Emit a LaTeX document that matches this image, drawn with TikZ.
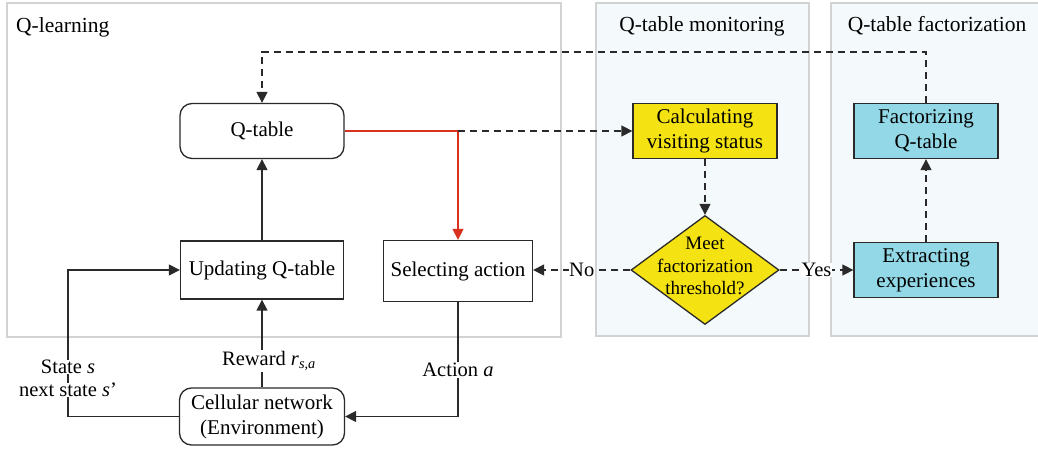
\documentclass[tikz,border=0pt]{standalone}
\usepackage{fontspec}
\setmainfont{Liberation Serif}
\usetikzlibrary{arrows.meta,shapes.geometric}
\definecolor{panelgray}{HTML}{D2D2D2}
\definecolor{panelfill}{HTML}{F4FAFB}
\definecolor{qyellow}{HTML}{F5E212}
\definecolor{qcyan}{HTML}{93D8E6}
\definecolor{qred}{HTML}{D8321F}
\definecolor{edge}{HTML}{2A2A2A}
\tikzset{
  panel/.style={draw=panelgray, line width=1.3pt},
  box/.style={draw=edge, line width=1.3pt, align=center, inner sep=0pt,
    font=\fontsize{21}{25}\selectfont},
  rbox/.style={box, rounded corners=12pt},
  title/.style={font=\fontsize{21.5}{24}\selectfont, inner sep=0pt},
  lab/.style={font=\fontsize{20.5}{23}\selectfont, fill=white, inner sep=1pt},
  conn/.style={draw=edge, line width=1.4pt, -{Triangle[length=11pt,width=11pt]}},
  dconn/.style={conn, dash pattern=on 7pt off 5pt},
}
\begin{document}
\begin{tikzpicture}[x=1pt,y=-1pt]
\useasboundingbox (0,0) rectangle (1038,449);
% panels
\draw[panel, fill=white] (7,3) rectangle (561,337);
\draw[panel, fill=panelfill] (596,3) rectangle (809,336);
\draw[panel, fill=panelfill] (831,3) rectangle (1045,336);
\node[title, anchor=west] (t1) at (16,27) {Q-learning};
\node[title] (t2) at (702,26) {Q-table monitoring};
\node[title] (t3) at (937,26) {Q-table factorization};
% nodes
\node[rbox, minimum width=164pt, minimum height=55pt] (qt) at (262,131) {Q-table};
\node[box, minimum width=163pt, minimum height=58pt] (upd) at (262,270) {Updating Q-table};
\node[box, minimum width=149pt, minimum height=61pt] (sel) at (458,271) {Selecting action};
\node[rbox, minimum width=165pt, minimum height=57pt] (env) at (262,416.5) {Cellular network\\(Environment)};
\node[box, fill=qyellow, minimum width=144pt, minimum height=55pt] (calc) at (705,131) {Calculating\\visiting status};
\node[box, fill=qcyan, minimum width=144pt, minimum height=55pt] (fact) at (926,131) {Factorizing\\Q-table};
\node[box, fill=qcyan, minimum width=144pt, minimum height=55pt] (extr) at (926,270) {Extracting\\experiences};
\node[diamond, draw=edge, line width=1.3pt, fill=qyellow, minimum width=148pt, minimum height=109pt, inner sep=0pt] (dia) at (705,270) {};
\node[align=center, inner sep=0pt, font=\fontsize{19}{22.5}\selectfont] (diat) at (705,266) {Meet\\factorization\\threshold?};
% coordinates
\coordinate (top) at (0,52);
\coordinate (split) at (458,131);
\coordinate (sl) at (68,0);
% connectors
\draw[dconn] (fact.north) -- (fact.north |- top) -- (qt.north |- top) -- (qt.north);
\draw[line width=1.4pt, draw=qred, -{Triangle[length=11pt,width=11pt]}] (qt.east) -- (split) -- (sel.north);
\draw[dconn] (split) -- (calc.west);
\draw[dconn] (calc.south) -- (dia.north);
\draw[dconn] (extr.north) -- (fact.south);
\draw[dconn] (dia.west) -- node[lab, inner sep=0.5pt] (no) {No} (sel.east |- dia.west);
\draw[dconn] (dia.east) -- node[lab, inner sep=0.5pt] (yes) {Yes} (extr.west);
\draw[conn] (upd.north) -- (qt.south);
\draw[conn] (env.north) -- (upd.south);
\draw[conn] (env.west) -| (sl |- upd.west) -- (upd.west);
\draw[conn] (sel.south) |- (env.east);
% labels
\node[lab] (reward) at (269,361) {Reward \textit{r}\textsubscript{\textit{s,a}}};
\node[lab] (action) at (458,370) {Action \textit{a}};
\node[lab, inner sep=0.5pt] (st1) at (68,367) {State \textit{s}};
\node[lab, inner sep=0.5pt] (st2) at (68,390) {next state \textit{s}’};
\end{tikzpicture}
\end{document}
